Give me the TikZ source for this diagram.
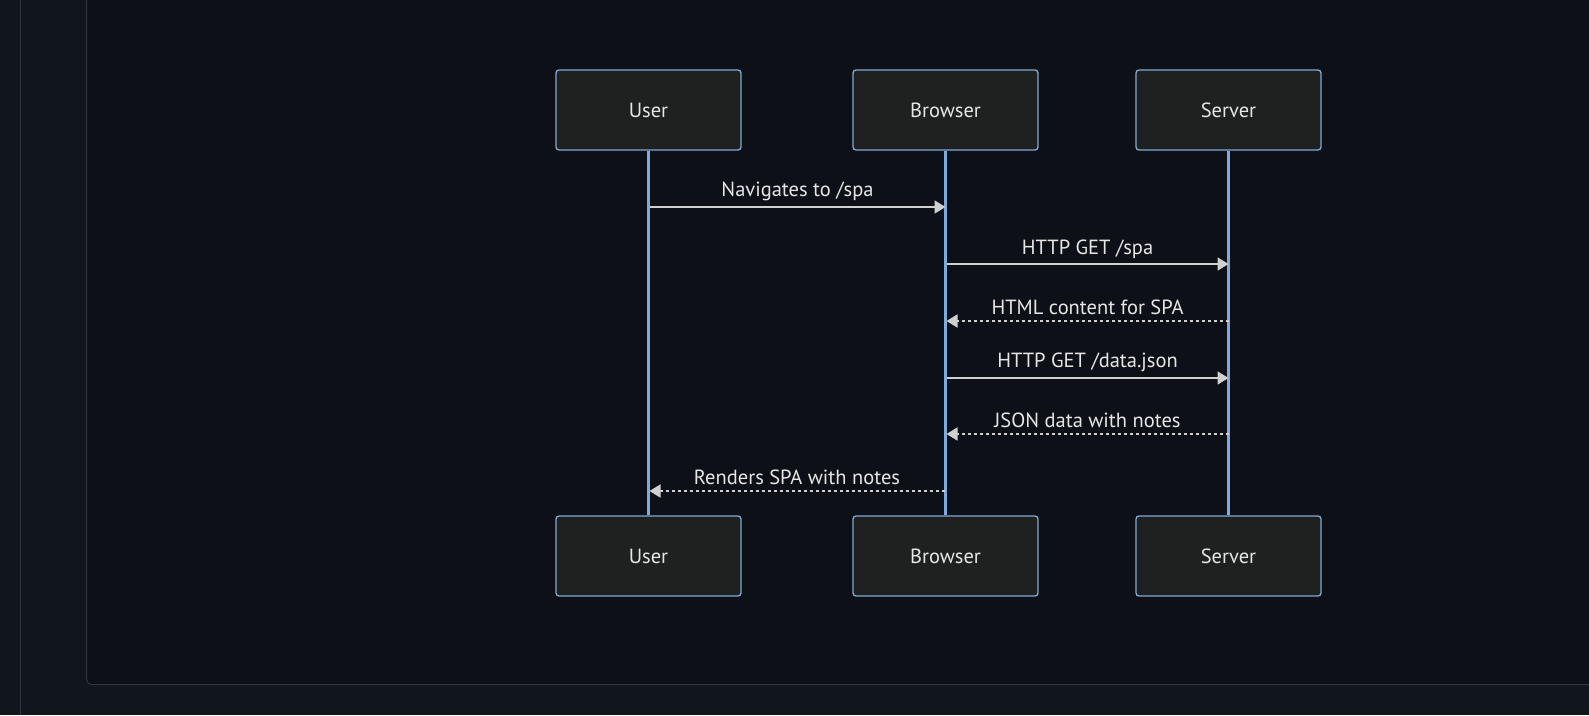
\documentclass[tikz,border=0pt]{standalone}
\usepackage{fontspec}
\setmainfont{PT Sans}
\usetikzlibrary{arrows.meta}
\definecolor{outerbg}{HTML}{11151C}
\definecolor{panelbg}{HTML}{0D1117}
\definecolor{panelline}{HTML}{30363D}
\definecolor{boxfill}{HTML}{1F2020}
\definecolor{boxline}{HTML}{81A9D6}
\definecolor{lifeline}{HTML}{7FAAD9}
\definecolor{msgline}{HTML}{D0D0D0}
\definecolor{msgtext}{HTML}{E6E6E6}
\begin{document}
\begin{tikzpicture}[x=1pt,y=-1pt,
  actor/.style={draw=boxline,line width=1.3pt,fill=boxfill,rounded corners=3pt,
    minimum width=185pt,minimum height=80pt,inner sep=0pt,text=msgtext,font=\fontsize{20.5}{24}\selectfont},
  life/.style={draw=lifeline,line width=2.2pt},
  msg/.style={draw=msgline,line width=1.8pt,-{Triangle[length=11pt,width=13pt]}},
  reply/.style={msg,dash pattern=on 3pt off 3pt},
  lbl/.style={text=msgtext,font=\fontsize{20.5}{24}\selectfont,above=3pt,midway,inner sep=2pt}]
\fill[outerbg] (0,0) rectangle (1589,715);
\useasboundingbox (0,0) rectangle (1589,715);
\draw[panelline,line width=1pt] (20.5,0) -- (20.5,715);
\draw[panelline,line width=1pt,fill=panelbg,rounded corners=5pt] (86.5,-20) -- (86.5,684.5) -- (1600,684.5) -- (1600,-20) -- cycle;
% actors
\node[actor] (u1) at (648.5,110) {User};
\node[actor] (b1) at (945.5,110) {Browser};
\node[actor] (s1) at (1228.5,110) {Server};
\node[actor] (u2) at (648.5,556) {User};
\node[actor] (b2) at (945.5,556) {Browser};
\node[actor] (s2) at (1228.5,556) {Server};
\draw[life] (u1.south) -- (u2.north);
\draw[life] (b1.south) -- (b2.north);
\draw[life] (s1.south) -- (s2.north);
% message anchor coordinates
\foreach \n/\y in {1/207,2/264,3/321,4/378,5/434,6/491}{
  \coordinate (u\n) at (649.5,\y);
  \coordinate (b\n) at (945.5,\y);
  \coordinate (bl\n) at (944.5,\y);
  \coordinate (br\n) at (946.5,\y);
  \coordinate (s\n) at (1228.5,\y);
}
\draw[msg] (u1) -- node[lbl] {Navigates to /spa} (b1);
\draw[msg] (br2) -- node[lbl] {HTTP GET /spa} (s2);
\draw[reply] (s3) -- node[lbl] {HTML content for SPA} (br3);
\draw[msg] (br4) -- node[lbl] {HTTP GET /data.json} (s4);
\draw[reply] (s5) -- node[lbl] {JSON data with notes} (br5);
\draw[reply] (bl6) -- node[lbl] {Renders SPA with notes} (u6);
\end{tikzpicture}
\end{document}
